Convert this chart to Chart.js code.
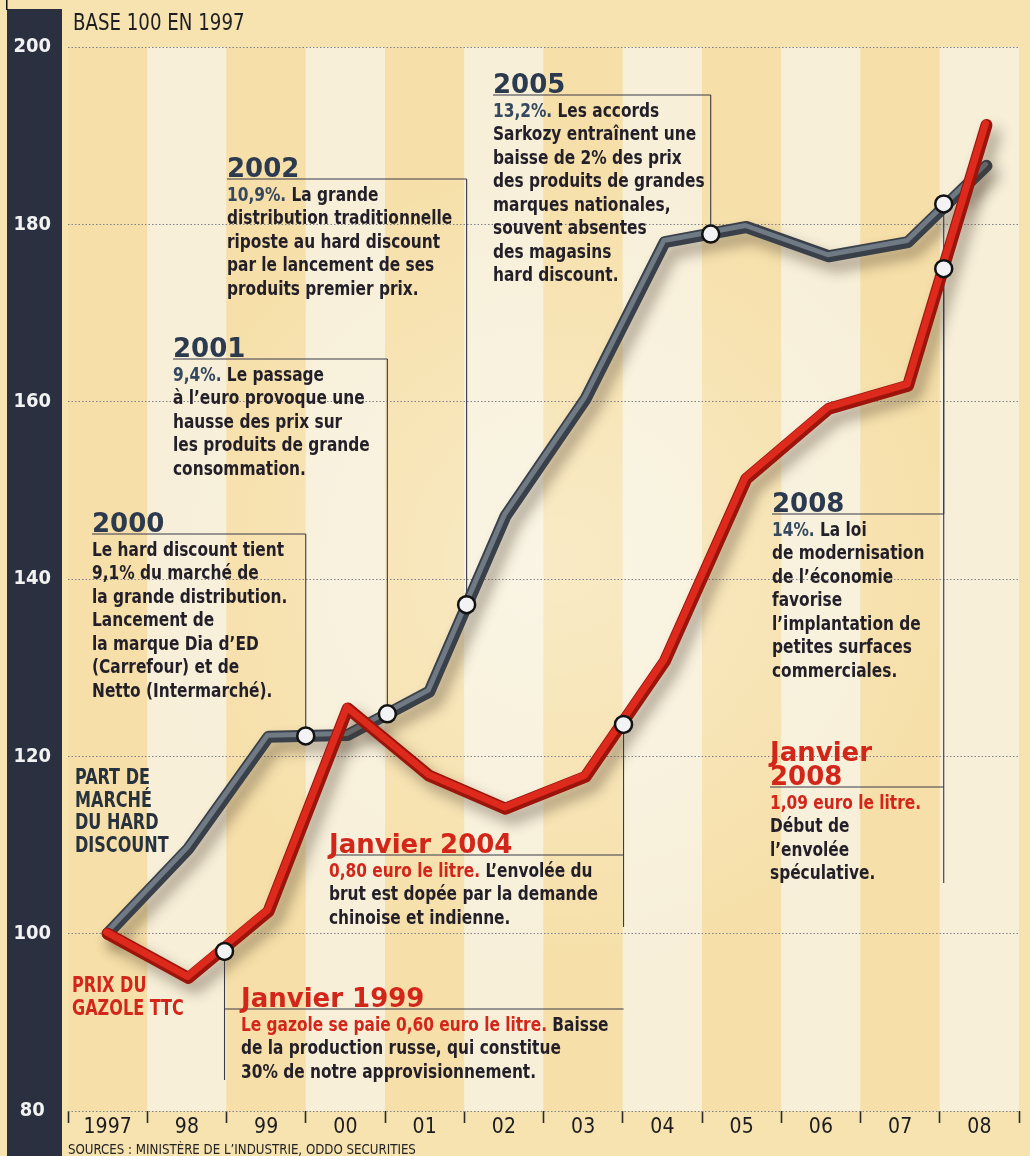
<!DOCTYPE html>
<html><head><meta charset="utf-8">
<script src="https://cdn.jsdelivr.net/npm/chart.js@4/dist/chart.umd.min.js"></script>
<style>
html,body{margin:0;padding:0;background:#f6e3ae;}
canvas{display:block;}
</style>
</head><body>
<canvas id="c" width="1030" height="1156"></canvas>
<script>
// ---------- DATA ----------
const yearLabels = ['1997','98','99','00','01','02','03','04','05','06','07','08'];
const vertexPos = [0, 1.02, 2.03, 3.03, 4.06, 5.02, 6.03, 7.03, 8.06, 9.1, 10.1, 11.09];
const hardDiscount = [100, 109.6, 122.2, 122.4, 127.3, 147.1, 160.3, 178.0, 179.7, 176.4, 178.0, 186.6];
const gazole = [100, 95.0, 102.5, 125.4, 117.8, 114.1, 117.7, 130.7, 151.3, 159.2, 161.8, 191.2];
const hdMarkerPos = [2.5, 3.53, 4.53, 7.61, 10.55];
const hdMarkerVal = [122.3, 124.8, 137.1, 178.9, 182.3];
const gzMarkerPos = [1.475, 6.51, 10.55];
const gzMarkerVal = [98.0, 123.6, 175.0];
const yMin = 80, yMax = 200, yStep = 20;

// ---------- STYLE ----------
const NARROW = "'Liberation Sans Narrow', 'DejaVu Sans Condensed', 'Arial Narrow', sans-serif";
const HEAD = "'DejaVu Sans', 'Liberation Sans', Arial, sans-serif";
const DARK = '#231f29', SLATE = '#34485f', RED = '#d3261b', HEADSLATE = '#2b3a4f';

const notes = [
  {x:92, base:532, head:['2000'], color:HEADSLATE, mk:['hd',0],
   lines:[[['Le hard discount tient',DARK]],[['9,1% du marché de',DARK]],[['la grande distribution.',DARK]],[['Lancement de',DARK]],[['la marque Dia d’ED',DARK]],[['(Carrefour) et de',DARK]],[['Netto (Intermarché).',DARK]]]},
  {x:173, base:357, head:['2001'], color:HEADSLATE, mk:['hd',1],
   lines:[[['9,4%.',SLATE],[' Le passage',DARK]],[['à l’euro provoque une',DARK]],[['hausse des prix sur',DARK]],[['les produits de grande',DARK]],[['consommation.',DARK]]]},
  {x:227, base:177, head:['2002'], color:HEADSLATE, mk:['hd',2],
   lines:[[['10,9%.',SLATE],[' La grande',DARK]],[['distribution traditionnelle',DARK]],[['riposte au hard discount',DARK]],[['par le lancement de ses',DARK]],[['produits premier prix.',DARK]]]},
  {x:493, base:93, head:['2005'], color:HEADSLATE, mk:['hd',3],
   lines:[[['13,2%.',SLATE],[' Les accords',DARK]],[['Sarkozy entraînent une',DARK]],[['baisse de 2% des prix',DARK]],[['des produits de grandes',DARK]],[['marques nationales,',DARK]],[['souvent absentes',DARK]],[['des magasins',DARK]],[['hard discount.',DARK]]]},
  {x:772, base:512, head:['2008'], color:HEADSLATE, mk:['hd',4],
   lines:[[['14%.',SLATE],[' La loi',DARK]],[['de modernisation',DARK]],[['de l’économie',DARK]],[['favorise',DARK]],[['l’implantation de',DARK]],[['petites surfaces',DARK]],[['commerciales.',DARK]]]},
  {x:770, base:785, head:['Janvier','2008'], color:RED, mk:['gz',2], vEnd:883,
   lines:[[['1,09 euro le litre.',RED]],[['Début de',DARK]],[['l’envolée',DARK]],[['spéculative.',DARK]]]},
  {x:329, base:853, head:['Janvier 2004'], color:RED, mk:['gz',1], vEnd:927,
   lines:[[['0,80 euro le litre.',RED],[' L’envolée du',DARK]],[['brut est dopée par la demande',DARK]],[['chinoise et indienne.',DARK]]]},
  {x:241, base:1007, head:['Janvier 1999'], color:RED, mk:['gz',0], vEnd:1080, ruleTo:6.51,
   lines:[[['Le gazole se paie 0,60 euro le litre.',RED],[' Baisse',DARK]],[['de la production russe, qui constitue',DARK]],[['30% de notre approvisionnement.',DARK]]]}
];

const pts = (xs, ys) => xs.map((x, i) => ({x, y: ys[i]}));

// text drawn with a horizontal squeeze to imitate a condensed newspaper face
function drawRich(ctx, segs, x, y, sx) {
  ctx.save();
  ctx.translate(x, y);
  ctx.scale(sx, 1);
  let cx = 0;
  for (const [t, c] of segs) { ctx.fillStyle = c; ctx.fillText(t, cx, 0); cx += ctx.measureText(t).width; }
  ctx.restore();
}

const decor = {
  id: 'decor',
  beforeDraw(chart) {
    const {ctx, chartArea: a, scales: {x}} = chart;
    ctx.save();
    ctx.fillStyle = '#f6e3b0';
    ctx.fillRect(0, 0, chart.width, chart.height);
    for (let i = 0; i < yearLabels.length; i++) {
      const l = x.getPixelForValue(i - 0.5), r = x.getPixelForValue(i + 0.5);
      ctx.fillStyle = i % 2 === 0 ? '#f6dfa8' : '#f7efd8';
      ctx.fillRect(l, a.top, r - l, a.bottom - a.top);
    }
    const g = ctx.createRadialGradient(560, 560, 20, 560, 560, 420);
    g.addColorStop(0, 'rgba(255,255,250,0.35)');
    g.addColorStop(1, 'rgba(255,255,250,0)');
    ctx.fillStyle = g;
    ctx.fillRect(a.left, a.top, a.right - a.left, a.bottom - a.top);
    // dark left band
    ctx.fillStyle = '#2a3040';
    ctx.fillRect(7, 9, 55, chart.height - 9);
    ctx.fillStyle = '#111';
    ctx.fillRect(6, 0, 1.5, 10);
    ctx.restore();
  },
  beforeDatasetsDraw(chart) {
    const {ctx, scales: {x, y}} = chart;
    ctx.save();
    ctx.strokeStyle = '#3a3a4a';
    ctx.lineWidth = 1.1;
    for (const n of notes) {
      const mx = x.getPixelForValue(n.mk[0] === 'hd' ? hdMarkerPos[n.mk[1]] : gzMarkerPos[n.mk[1]]);
      const my = y.getPixelForValue(n.mk[0] === 'hd' ? hdMarkerVal[n.mk[1]] : gzMarkerVal[n.mk[1]]);
      const ry = n.base + 2;
      const x1 = Math.min(n.x, mx);
      const x2 = n.ruleTo !== undefined ? x.getPixelForValue(n.ruleTo) : Math.max(mx, n.x);
      ctx.beginPath();
      ctx.moveTo(x1, ry); ctx.lineTo(x2, ry);
      const top = Math.min(ry, my), bot = Math.max(ry, my, n.vEnd || 0);
      ctx.moveTo(mx, top); ctx.lineTo(mx, bot);
      ctx.stroke();
    }
    ctx.restore();
  },
  beforeDatasetDraw(chart, args) {
    const ds = chart.data.datasets[args.index];
    if (!ds.tube) return;
    const ctx = chart.ctx;
    ctx.save();
    if (ds.tube === 'outer') {
      ctx.shadowColor = 'rgba(70,55,40,0.45)';
      ctx.shadowBlur = 14; ctx.shadowOffsetX = 7; ctx.shadowOffsetY = 9;
    } else {
      ctx.translate(-1, -1.5);
    }
  },
  afterDatasetDraw(chart, args) {
    const ds = chart.data.datasets[args.index];
    if (ds.tube) chart.ctx.restore();
  },
  afterDraw(chart) {
    const ctx = chart.ctx;
    ctx.save();
    ctx.textBaseline = 'middle';
    ctx.textAlign = 'left';
    // title
    ctx.font = `23px ${NARROW}`;
    drawRich(ctx, [['BASE 100 EN 1997', '#1d1d22']], 73, 24, 0.88);
    // sources
    ctx.font = `14px ${NARROW}`;
    drawRich(ctx, [['SOURCES : MINISTÈRE DE L’INDUSTRIE, ODDO SECURITIES', '#222']], 68, 1150, 0.94);
    // series labels
    ctx.font = `bold 21px ${NARROW}`;
    ['PART DE', 'MARCHÉ', 'DU HARD', 'DISCOUNT'].forEach((t, i) => drawRich(ctx, [[t, '#27323f']], 75, 779 + i * 22.5, 0.85));
    ['PRIX DU', 'GAZOLE TTC'].forEach((t, i) => drawRich(ctx, [[t, RED]], 72, 987 + i * 23, 0.85));
    // notes
    for (const n of notes) {
      ctx.textBaseline = 'alphabetic';
      ctx.font = `bold 26px ${HEAD}`;
      ctx.fillStyle = n.color;
      n.head.forEach((h, i) => ctx.fillText(h, n.x, n.base - (n.head.length - 1 - i) * 24));
      ctx.textBaseline = 'middle';
      ctx.font = `bold 19px ${NARROW}`;
      n.lines.forEach((segs, i) => drawRich(ctx, segs, n.x, n.base + 19 + i * 23.5, 0.9));
    }
    ctx.restore();
  }
};

const tickIsLabel = v => Math.round(v * 2) % 2 === 0;

new Chart(document.getElementById('c'), {
  type: 'line',
  data: {
    datasets: [
      {label: 'markers hd', data: pts(hdMarkerPos, hdMarkerVal), showLine: false, order: 0,
       pointRadius: 8.5, pointBackgroundColor: '#f3f2f5', pointBorderColor: '#121212', pointBorderWidth: 2.5},
      {label: 'markers gz', data: pts(gzMarkerPos, gzMarkerVal), showLine: false, order: 0,
       pointRadius: 8.5, pointBackgroundColor: '#f3f2f5', pointBorderColor: '#121212', pointBorderWidth: 2.5},
      {label: 'Prix du gazole TTC', data: pts(vertexPos, gazole), tube: 'inner', order: 1,
       borderColor: '#dd2a1c', borderWidth: 7, pointRadius: 0, borderCapStyle: 'round', borderJoinStyle: 'round'},
      {label: 'Prix du gazole TTC (bord)', data: pts(vertexPos, gazole), tube: 'outer', order: 2,
       borderColor: '#9c150c', borderWidth: 12, pointRadius: 0, borderCapStyle: 'round', borderJoinStyle: 'round'},
      {label: 'Part de marché du hard discount', data: pts(vertexPos, hardDiscount), tube: 'inner', order: 3,
       borderColor: '#6f7a85', borderWidth: 5, pointRadius: 0, borderCapStyle: 'round', borderJoinStyle: 'round'},
      {label: 'Part de marché du hard discount (bord)', data: pts(vertexPos, hardDiscount), tube: 'outer', order: 4,
       borderColor: '#394049', borderWidth: 12, pointRadius: 0, borderCapStyle: 'round', borderJoinStyle: 'round'}
    ]
  },
  options: {
    responsive: false,
    devicePixelRatio: 1,
    animation: false,
    layout: {padding: {top: 47, right: 2, bottom: 14, left: 0}},
    plugins: {legend: {display: false}, tooltip: {enabled: false}},
    elements: {line: {tension: 0}},
    scales: {
      x: {
        type: 'linear', min: -0.5, max: 11.5,
        afterFit: s => { s.height = 31; },
        border: {display: false},
        grid: {drawOnChartArea: false, drawTicks: true, tickLength: 12, tickWidth: 1.6,
               tickColor: c => tickIsLabel(c.tick.value) ? 'rgba(0,0,0,0)' : '#2a2a2a'},
        ticks: {stepSize: 0.5, autoSkip: false, maxRotation: 0, padding: -8, color: '#1c1c20',
                font: {family: NARROW, size: 21},
                callback: v => tickIsLabel(v) ? (yearLabels[Math.round(v)] ?? '') : ''}
      },
      y: {
        min: yMin, max: yMax,
        afterFit: s => { s.width = 68; },
        border: {display: false, dash: [1.5, 2]},
        grid: {color: '#80808a', lineWidth: 1, drawTicks: false},
        ticks: {stepSize: yStep, crossAlign: 'center', padding: 17, color: '#f2f2f2',
                font: {family: NARROW, size: 20, weight: 'bold'}}
      }
    }
  },
  plugins: [decor]
});
</script>
</body></html>
